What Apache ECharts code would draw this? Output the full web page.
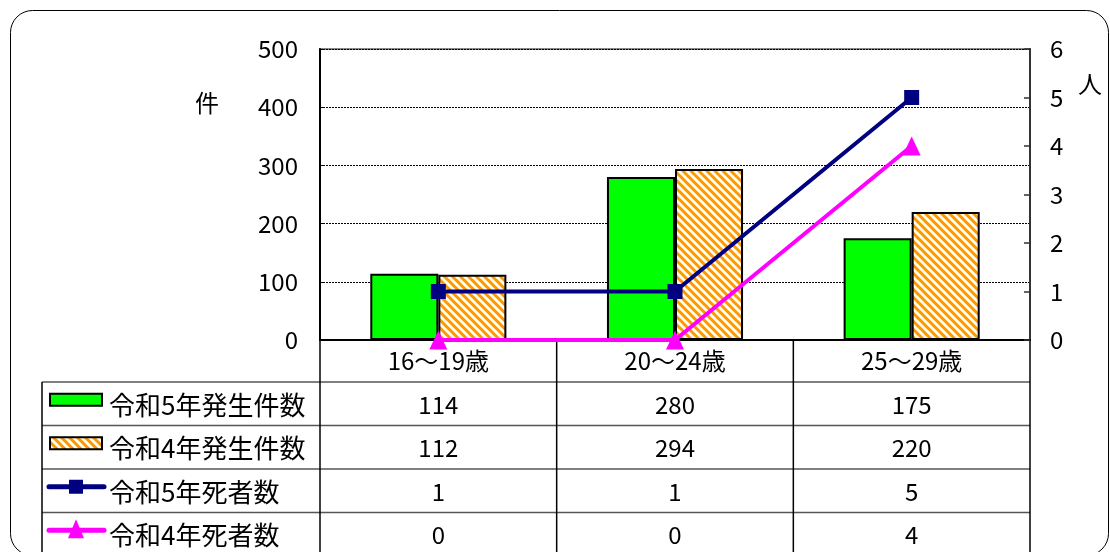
<!DOCTYPE html>
<html><head><meta charset="utf-8">
<script src="https://cdn.jsdelivr.net/npm/echarts@6/dist/echarts.min.js"></script>
<style>html,body{margin:0;padding:0;background:#fff}#c{width:1110px;height:552px}</style>
</head><body><div id="c"></div>
<script>
const categories = ['16～19歳', '20～24歳', '25～29歳'];
const cases2023 = [114, 280, 175];
const cases2022 = [112, 294, 220];
const deaths2023 = [1, 1, 5];
const deaths2022 = [0, 0, 4];
const seriesNames = ['令和5年発生件数', '令和4年発生件数', '令和5年死者数', '令和4年死者数'];
const leftUnit = '件';
const rightUnit = '人';

const FONT = '"Noto Sans CJK JP", "Noto Sans", sans-serif';
const FS = 24;
const GL = 320, GR = 1030, GT = 49, GB = 340;
const TABLE_TOP = 382, ROW_H = 43.5, TABLE_LEFT = 42;

function hatch() {
  const c = document.createElement('canvas');
  c.width = 8; c.height = 8;
  const x = c.getContext('2d');
  x.fillStyle = '#fff'; x.fillRect(0, 0, 8, 8);
  x.strokeStyle = '#FF9900'; x.lineWidth = 3;
  x.beginPath();
  x.moveTo(-2, -2); x.lineTo(10, 10);
  x.moveTo(-2, 6); x.lineTo(2, 10);
  x.moveTo(6, -2); x.lineTo(10, 2);
  x.stroke();
  return c;
}
const hatchFill = { image: hatch(), repeat: 'repeat' };

const chart = echarts.init(document.getElementById('c'), null, { renderer: 'canvas' });

const colW = (GR - GL) / categories.length;
const tableRows = [cases2023, cases2022, deaths2023, deaths2022];
const graphics = [];

// outer rounded frame
graphics.push({ type: 'rect', shape: { x: 10.5, y: 10.5, width: 1098, height: 545, r: 22 },
  style: { fill: 'none', stroke: '#000', lineWidth: 1 }, silent: true, z: 0 });
// unit labels
graphics.push({ type: 'text', x: 207, y: 103, style: { text: leftUnit, font: `${FS}px ${FONT}`, fill: '#000', align: 'center', verticalAlign: 'middle' } });
graphics.push({ type: 'text', x: 1090, y: 84, style: { text: rightUnit, font: `${FS}px ${FONT}`, fill: '#000', align: 'center', verticalAlign: 'middle' } });

const tableBottom = TABLE_TOP + ROW_H * tableRows.length;
for (let r = 0; r <= tableRows.length; r++) {
  const y = TABLE_TOP + r * ROW_H;
  graphics.push({ type: 'line', shape: { x1: TABLE_LEFT, y1: y, x2: GR, y2: y }, style: { stroke: '#555', lineWidth: 1.5 }, silent: true });
}
graphics.push({ type: 'line', shape: { x1: TABLE_LEFT, y1: TABLE_TOP, x2: TABLE_LEFT, y2: tableBottom }, style: { stroke: '#000', lineWidth: 1.5 } });
for (let i = 0; i <= categories.length; i++) {
  const x = GL + i * colW;
  graphics.push({ type: 'line', shape: { x1: x, y1: GB, x2: x, y2: tableBottom }, style: { stroke: '#000', lineWidth: 1.5 } });
}
tableRows.forEach((row, r) => {
  const cy = TABLE_TOP + r * ROW_H + ROW_H / 2 + 1;
  row.forEach((v, i) => {
    graphics.push({ type: 'text', x: GL + (i + 0.5) * colW, y: cy,
      style: { text: String(v), font: `${FS}px ${FONT}`, fill: '#000', align: 'center', verticalAlign: 'middle' } });
  });
  graphics.push({ type: 'text', x: 109, y: cy,
    style: { text: seriesNames[r], font: `26px ${FONT}`, fill: '#000', align: 'left', verticalAlign: 'middle' } });
});
{
  const c0 = TABLE_TOP + ROW_H / 2;
  graphics.push({ type: 'rect', shape: { x: 50, y: c0 - 10, width: 52, height: 12 }, style: { fill: '#00FF00', stroke: '#000', lineWidth: 2 } });
  const c1 = TABLE_TOP + ROW_H * 1.5;
  graphics.push({ type: 'rect', shape: { x: 50, y: c1 - 10, width: 52, height: 12 }, style: { fill: hatchFill, stroke: '#000', lineWidth: 2 } });
  const c2 = TABLE_TOP + ROW_H * 2.5 - 4;
  graphics.push({ type: 'line', shape: { x1: 49, y1: c2, x2: 104, y2: c2 }, style: { stroke: '#000080', lineWidth: 5, lineCap: 'round' } });
  graphics.push({ type: 'rect', shape: { x: 69, y: c2 - 7, width: 14, height: 14 }, style: { fill: '#000080' } });
  const c3 = TABLE_TOP + ROW_H * 3.5 - 4;
  graphics.push({ type: 'line', shape: { x1: 49, y1: c3, x2: 104, y2: c3 }, style: { stroke: '#FF00FF', lineWidth: 5, lineCap: 'round' } });
  graphics.push({ type: 'polygon', shape: { points: [[76, c3 - 11], [84, c3 + 8], [68, c3 + 8]] }, style: { fill: '#FF00FF' } });
}

const option = {
  animation: false,
  backgroundColor: '#fff',
  textStyle: { fontFamily: FONT },
  grid: { left: GL, right: 1110 - GR, top: GT, bottom: 552 - GB, show: true, borderColor: '#888', borderWidth: 2, backgroundColor: 'transparent' },
  xAxis: {
    type: 'category', data: categories,
    axisLine: { lineStyle: { color: '#000', width: 2 } },
    axisTick: { show: false },
    axisLabel: { color: '#000', fontSize: FS, fontFamily: FONT, margin: 9 }
  },
  yAxis: [
    { type: 'value', min: 0, max: 500, interval: 100, position: 'left',
      axisLine: { show: true, lineStyle: { color: '#000', width: 2 } },
      axisTick: { show: true, inside: true, length: 5, lineStyle: { color: '#000' } },
      axisLabel: { color: '#000', fontSize: FS, fontFamily: FONT, margin: 22 },
      splitLine: { show: true, lineStyle: { color: '#000', type: [2, 1], width: 1 } } },
    { type: 'value', min: 0, max: 6, interval: 1, position: 'right',
      axisLine: { show: true, lineStyle: { color: '#333', width: 2 } },
      axisTick: { show: true, inside: true, length: 6, lineStyle: { color: '#333', width: 1.5 } },
      axisLabel: { color: '#000', fontSize: FS, fontFamily: FONT, margin: 20 },
      splitLine: { show: false } }
  ],
  series: [
    { name: seriesNames[0], type: 'bar', data: cases2023, barGap: '0%', barCategoryGap: '42.5%',
      itemStyle: { color: '#00FF00', borderColor: '#000', borderWidth: 2 } },
    { name: seriesNames[1], type: 'bar', data: cases2022, barGap: '0%', barCategoryGap: '42.5%',
      itemStyle: { color: hatchFill, borderColor: '#000', borderWidth: 2 } },
    { name: seriesNames[2], type: 'line', yAxisIndex: 1, data: deaths2023, clip: false, z: 5,
      symbol: 'rect', symbolSize: 15, showAllSymbol: true,
      lineStyle: { color: '#000080', width: 4 }, itemStyle: { color: '#000080' } },
    { name: seriesNames[3], type: 'line', yAxisIndex: 1, data: deaths2022, clip: false, z: 5,
      symbol: 'triangle', symbolSize: [18, 19], showAllSymbol: true,
      lineStyle: { color: '#FF00FF', width: 4 }, itemStyle: { color: '#FF00FF' } }
  ],
  graphic: graphics
};
chart.setOption(option);
</script></body></html>
